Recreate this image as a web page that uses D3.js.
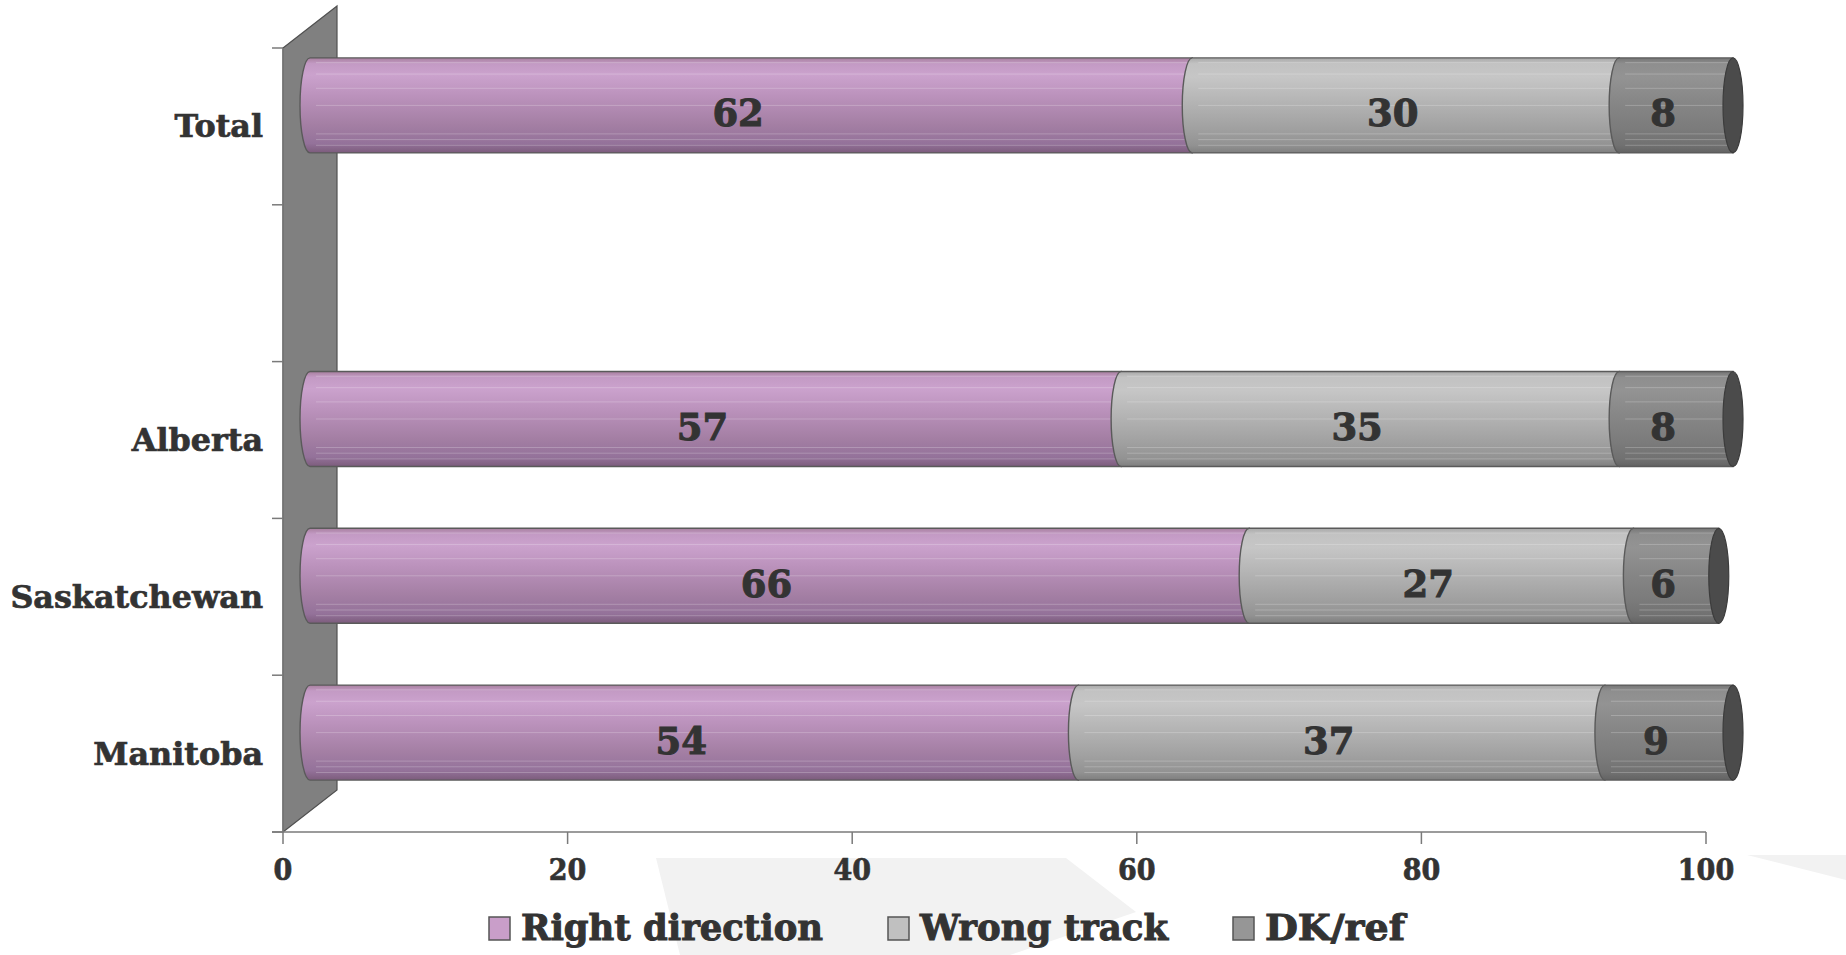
<!DOCTYPE html>
<html>
<head>
<meta charset="utf-8">
<script src="https://cdn.jsdelivr.net/npm/d3@7"></script>
<style>
  html, body { margin: 0; padding: 0; background: #ffffff; }
  svg { display: block; }
  text { font-family: "DejaVu Serif", serif; font-weight: bold; fill: #333333; stroke: #333333; stroke-width: 0.7px; }
</style>
</head>
<body>
<svg id="chart" width="1846" height="955"></svg>
<script>
// ---- data ----
const categories = ["Total", "", "Alberta", "Saskatchewan", "Manitoba"];
const rightDirection = [62, null, 57, 66, 54];
const wrongTrack = [30, null, 35, 27, 37];
const dkRef = [8, null, 8, 6, 9];
const seriesNames = ["Right direction", "Wrong track", "DK/ref"];
const xTicks = [0, 20, 40, 60, 80, 100];

// ---- setup ----
const svg = d3.select("#chart");
const x = d3.scaleLinear().domain([0, 100]).range([283, 1706]);
const y = d3.scaleBand().domain(d3.range(categories.length)).range([48, 832]).padding(0);
const depthX = 54, depthY = -42;       // back-wall depth
const halfX = depthX / 2, halfY = depthY / 2;
const barH = 95;
const capRx = 10;

const defs = svg.append("defs");
const palettes = [
  { id: "gRight", stops: [["0%", "#a8809f"], ["6%", "#c39ac4"], ["18%", "#cba2cd"], ["40%", "#bb92bc"], ["70%", "#a47fa4"], ["90%", "#94729a"], ["100%", "#7c5c7c"]], legend: "#c99ec9" },
  { id: "gWrong", stops: [["0%", "#a9a9a9"], ["6%", "#c2c2c2"], ["20%", "#c6c6c6"], ["45%", "#b5b5b5"], ["75%", "#a0a0a0"], ["92%", "#929292"], ["100%", "#7f7f7f"]], legend: "#c0c0c0" },
  { id: "gDk", stops: [["0%", "#767676"], ["6%", "#8e8e8e"], ["20%", "#939393"], ["45%", "#878787"], ["75%", "#7b7b7b"], ["92%", "#717171"], ["100%", "#636363"]], legend: "#969696" }
];
palettes.forEach(p => {
  const g = defs.append("linearGradient").attr("id", p.id)
    .attr("x1", 0).attr("y1", 0).attr("x2", 0).attr("y2", 1);
  p.stops.forEach(s => g.append("stop").attr("offset", s[0]).attr("stop-color", s[1]));
});

// ---- background watermark shapes ----
svg.append("polygon")
  .attr("points", [[656, 858], [1066, 858], [1136, 912], [1010, 955], [680, 955]].map(p => p.join(",")).join(" "))
  .attr("fill", "#f2f2f2");
svg.append("polygon")
  .attr("points", [[1747, 855], [1846, 855], [1846, 880]].map(p => p.join(",")).join(" "))
  .attr("fill", "#f2f2f2");

// ---- back wall ----
const yTop = y.range()[0], yBot = y.range()[1];
const x0 = x(0);
svg.append("polygon")
  .attr("points", [[x0, yTop], [x0 + depthX, yTop + depthY], [x0 + depthX, yBot + depthY], [x0, yBot]].map(p => p.join(",")).join(" "))
  .attr("fill", "#808080").attr("stroke", "#505050").attr("stroke-width", 1.2);

// ---- axes ----
const axisColor = "#7a7a7a";
svg.append("line").attr("x1", x0).attr("x2", x0).attr("y1", yTop).attr("y2", yBot)
  .attr("stroke", axisColor).attr("stroke-width", 1.5);
const bandEdges = d3.range(categories.length + 1).map(i => yTop + i * y.step());
svg.selectAll("line.ytick").data(bandEdges).enter().append("line")
  .attr("class", "ytick")
  .attr("x1", x0 - 11).attr("x2", x0).attr("y1", d => d).attr("y2", d => d)
  .attr("stroke", axisColor).attr("stroke-width", 1.5);
svg.append("line").attr("x1", x0 - 11).attr("x2", x(100)).attr("y1", yBot).attr("y2", yBot)
  .attr("stroke", axisColor).attr("stroke-width", 1.5);
svg.selectAll("line.xtick").data(xTicks).enter().append("line")
  .attr("class", "xtick")
  .attr("x1", d => x(d)).attr("x2", d => x(d)).attr("y1", yBot).attr("y2", yBot + 12)
  .attr("stroke", axisColor).attr("stroke-width", 1.5);
svg.selectAll("text.xlab").data(xTicks).enter().append("text")
  .attr("class", "xlab")
  .attr("transform", d => `translate(${x(d)},880) scale(0.9,1)`)
  .attr("text-anchor", "middle")
  .style("font-size", "30px")
  .text(d => d);

// ---- category labels ----
svg.selectAll("text.cat").data(categories).enter().append("text")
  .attr("class", "cat")
  .attr("x", 263)
  .attr("y", (d, i) => y(i) + y.bandwidth() / 2 + 11)
  .attr("text-anchor", "end")
  .style("font-size", "31.8px")
  .text(d => d);

// ---- bars ----
const series = [rightDirection, wrongTrack, dkRef];
function segPath(xs, xe, top, bot) {
  const ry = (bot - top) / 2;
  return `M${xs},${top} L${xe},${top} L${xe},${bot} L${xs},${bot} A${capRx},${ry} 0 0 1 ${xs},${top} Z`;
}
const stripeFracs = [0.05, 0.17, 0.32, 0.5, 0.8, 0.86, 0.92];

categories.forEach((cat, i) => {
  if (rightDirection[i] == null) return;
  const cy = y(i) + y.bandwidth() / 2 + halfY;
  const top = cy - barH / 2, bot = cy + barH / 2;
  let cum = 0;
  const g = svg.append("g");
  series.forEach((s, k) => {
    const v = s[i];
    const xs = x(cum) + halfX, xe = x(cum + v) + halfX;
    g.append("path").attr("d", segPath(xs, xe, top, bot))
      .attr("fill", `url(#${palettes[k].id})`)
      .attr("stroke", "#5a5a5a").attr("stroke-width", 1.4);
    stripeFracs.forEach(f => {
      g.append("line")
        .attr("x1", xs + 6).attr("x2", xe - 2)
        .attr("y1", top + f * barH).attr("y2", top + f * barH)
        .attr("stroke", "#ffffff").attr("stroke-opacity", 0.22).attr("stroke-width", 1);
    });
    cum += v;
  });
  g.append("ellipse")
    .attr("cx", x(cum) + halfX).attr("cy", cy)
    .attr("rx", capRx).attr("ry", barH / 2)
    .attr("fill", "#4b4b4b").attr("stroke", "#3c3c3c").attr("stroke-width", 1.2);
  cum = 0;
  series.forEach((s, k) => {
    const v = s[i];
    g.append("text")
      .attr("x", x(cum + v / 2) + 14)
      .attr("y", y(i) + y.bandwidth() / 2)
      .attr("text-anchor", "middle")
      .style("font-size", "37px")
      .style("stroke-width", "1px")
      .text(v);
    cum += v;
  });
});

// ---- legend ----
const legendX = [489, 888, 1233];
const legendW = [302, 248, 140];
seriesNames.forEach((name, k) => {
  svg.append("rect")
    .attr("x", legendX[k]).attr("y", 917).attr("width", 21).attr("height", 23)
    .attr("fill", palettes[k].legend).attr("stroke", "#555555").attr("stroke-width", 1.5);
  svg.append("text")
    .attr("x", legendX[k] + 32).attr("y", 940)
    .attr("textLength", legendW[k]).attr("lengthAdjust", "spacingAndGlyphs")
    .style("font-size", "35px")
    .style("stroke-width", "1px")
    .text(name);
});
</script>
</body>
</html>
